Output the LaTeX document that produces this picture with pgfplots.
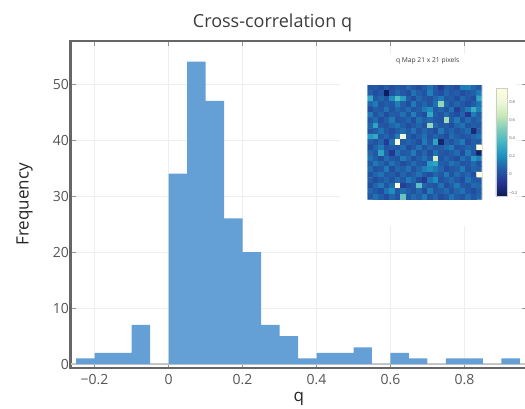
\documentclass[border=0pt]{standalone}
\usepackage{fontspec}
\setmainfont{Open Sans}
\usepackage{pgfplots}
\pgfplotsset{compat=1.18}

\definecolor{barblue}{RGB}{100,159,213}
\definecolor{framegray}{RGB}{102,102,102}
\definecolor{ticktext}{RGB}{85,85,85}
\definecolor{gridgray}{RGB}{238,238,238}
\definecolor{zerogray}{RGB}{200,200,200}
\definecolor{titlegray}{RGB}{60,60,60}

\pgfplotsset{
  colormap={ylgnbu}{rgb255=(8,29,88) rgb255=(37,52,148) rgb255=(34,94,168)
    rgb255=(29,145,192) rgb255=(65,182,196) rgb255=(127,205,187)
    rgb255=(199,233,180) rgb255=(237,248,217) rgb255=(255,255,217)},
}

% histogram of q: left bin edge and count (last row closes the final bin)
\pgfplotstableread{
edge  count
-0.25 1
-0.20 2
-0.15 2
-0.10 7
-0.05 0
0.00  34
0.05  54
0.10  47
0.15  26
0.20  20
0.25  7
0.30  5
0.35  1
0.40  2
0.45  2
0.50  3
0.55  0
0.60  2
0.65  1
0.70  0
0.75  1
0.80  1
0.85  0
0.90  1
0.95  1
}\histdata

\begin{document}
\begin{tikzpicture}[x=1pt,y=1pt]
\useasboundingbox (0,0) rectangle (525,408);

\begin{axis}[
  at={(70.5pt,40pt)}, anchor=south west,
  scale only axis, width=456.5pt, height=327pt,
  xmin=-0.265, xmax=0.969, ymin=-0.7, ymax=57.7,
  axis line style={draw=framegray, line width=2.5pt},
  xtick={-0.2,0,0.2,0.4,0.6,0.8},
  xticklabels={−0.2,0,0.2,0.4,0.6,0.8},
  ytick={0,10,20,30,40,50},
  tick align=inside, major tick length=5pt,
  tick style={draw=framegray!70, line width=0.8pt},
  grid=major, major grid style={draw=gridgray, line width=0.8pt},
  /pgf/number format/assume math mode=true,
  ticklabel style={font=\fontsize{14}{14}\selectfont, text=ticktext},
  xticklabel style={yshift=-3pt},
  yticklabel style={xshift=2pt},
  xlabel={q}, ylabel={Frequency},
  label style={font=\fontsize{17}{17}\selectfont, text=black!85},
  ylabel style={at={(axis description cs:-0.1008,0.5)}, anchor=center},
]
\addplot[zerogray, line width=1.5pt, forget plot] coordinates {(-0.265,0) (0.969,0)};
\addplot[ybar interval, fill=barblue, draw=none] table[x=edge, y=count] {\histdata};
\end{axis}

\node[anchor=base, font=\fontsize{18}{18}\selectfont, text=titlegray] at (272.5,380.5) {Cross-correlation q};

% white panel behind the map
\fill[white] (340,182) rectangle (516,354);

\begin{axis}[
  at={(367.7pt,208.7pt)}, anchor=south west,
  scale only axis, width=114pt, height=114.3pt,
  xmin=-0.5, xmax=20.5, ymin=-0.5, ymax=20.5, y dir=reverse,
  axis line style={draw=gray!25, line width=0.4pt},
  xtick=\empty, ytick=\empty,
  colormap name=ylgnbu, point meta min=-0.236, point meta max=0.947,
  title={q Map 21 x 21 pixels},
  title style={font=\fontsize{6.7}{7}\selectfont, text=titlegray,
    at={(axis description cs:0.5,1)}, anchor=base, yshift=17pt, xshift=3pt},
  colorbar,
  colorbar style={
    at={(parent axis.north east)}, anchor=north west, xshift=5.6pt, yshift=-3.3pt,
    scale only axis, width=11pt, height=107.7pt,
    ytick={-0.2,0,0.2,0.4,0.6,0.8}, yticklabels={−0.2,0,0.2,0.4,0.6,0.8},
    yticklabel style={font=\fontsize{4}{4}\selectfont, text=ticktext, xshift=-1pt},
    major tick length=0pt, axis line style={draw=gray!40, line width=0.4pt},
  },
]
% 21 x 21 map of q, one row of pixels per line, top row first
\addplot[matrix plot*, mesh/cols=21, mesh/rows=21, point meta=explicit]
  table[row sep=\\, x expr={mod(\coordindex,21)},
        y expr={round((\coordindex-mod(\coordindex,21))/21)}, meta=q] {
q\\
0.02\\0.04\\0.00\\0.06\\0.00\\0.04\\0.02\\0.09\\0.03\\0.00\\0.06\\0.12\\0.04\\-0.06\\0.06\\0.03\\0.00\\0.14\\0.16\\0.09\\0.04\\
0.06\\0.00\\0.04\\-0.22\\0.02\\0.08\\0.04\\0.00\\0.12\\0.06\\0.02\\0.16\\0.04\\0.00\\0.08\\0.03\\0.06\\0.00\\0.04\\0.07\\0.14\\
0.30\\0.04\\0.08\\0.02\\0.20\\0.40\\0.26\\0.06\\0.00\\0.09\\0.04\\0.02\\0.08\\0.14\\0.04\\0.06\\0.00\\0.09\\0.04\\0.00\\0.28\\
0.09\\0.14\\0.02\\0.06\\0.04\\0.16\\0.06\\0.00\\0.14\\0.04\\0.08\\0.02\\0.12\\0.55\\0.09\\0.02\\0.08\\0.04\\0.00\\0.06\\0.12\\
0.00\\0.06\\0.04\\0.12\\0.02\\0.08\\0.04\\0.10\\0.02\\0.06\\0.14\\0.20\\0.04\\0.08\\0.02\\0.12\\-0.05\\0.06\\0.14\\0.32\\0.16\\
0.14\\0.02\\0.08\\0.00\\0.06\\0.04\\0.12\\0.02\\0.16\\0.04\\0.00\\0.30\\0.06\\0.02\\0.10\\0.04\\0.00\\0.08\\-0.08\\0.14\\0.06\\
0.04\\0.10\\0.00\\0.06\\0.14\\0.02\\0.04\\0.08\\0.00\\0.12\\0.06\\0.09\\0.04\\0.02\\0.58\\0.06\\0.14\\0.02\\0.10\\0.04\\0.08\\
0.08\\0.28\\0.04\\0.02\\0.08\\0.12\\0.06\\0.00\\0.04\\0.08\\0.02\\0.55\\0.09\\0.04\\0.06\\0.00\\0.08\\0.12\\0.02\\0.06\\0.04\\
0.02\\0.06\\0.12\\0.04\\0.00\\0.06\\0.10\\0.04\\0.12\\0.02\\0.08\\0.04\\0.00\\0.14\\0.04\\0.08\\0.02\\0.06\\0.10\\-0.15\\0.06\\
0.24\\0.30\\0.04\\0.08\\0.02\\0.14\\0.80\\0.06\\0.00\\0.06\\0.12\\0.02\\0.08\\0.04\\0.00\\0.10\\0.06\\0.02\\0.04\\0.08\\0.12\\
0.06\\0.02\\0.08\\-0.06\\0.12\\0.88\\0.04\\0.08\\0.06\\0.00\\0.14\\0.04\\0.28\\-0.18\\0.06\\0.02\\0.08\\0.14\\0.00\\0.06\\0.04\\
0.00\\0.08\\0.14\\0.02\\0.06\\0.04\\0.10\\0.00\\0.04\\0.12\\0.02\\0.08\\0.04\\0.06\\0.10\\0.14\\0.02\\0.04\\0.08\\0.06\\0.95\\
0.08\\0.04\\0.28\\0.06\\-0.08\\0.12\\0.04\\0.06\\0.14\\0.02\\0.08\\0.00\\0.12\\0.04\\0.02\\0.06\\0.10\\0.00\\0.14\\0.04\\-0.20\\
0.12\\0.06\\0.00\\0.10\\0.04\\0.02\\0.14\\0.08\\0.00\\0.06\\0.12\\0.04\\0.70\\0.02\\0.08\\0.04\\0.00\\0.12\\0.06\\0.24\\0.16\\
0.04\\0.14\\0.08\\0.02\\0.12\\0.06\\0.00\\0.04\\0.10\\0.04\\0.02\\0.24\\0.28\\0.06\\0.04\\0.12\\0.08\\0.02\\0.04\\0.10\\0.02\\
0.10\\0.02\\0.04\\0.14\\0.00\\0.08\\0.06\\0.12\\0.02\\0.08\\0.16\\0.20\\0.14\\0.08\\0.00\\0.04\\0.06\\0.14\\0.02\\0.08\\0.06\\
0.02\\0.08\\0.12\\0.04\\0.06\\0.00\\0.08\\0.02\\0.06\\0.12\\0.04\\0.00\\0.08\\0.04\\0.14\\0.02\\0.10\\0.04\\0.08\\0.00\\0.95\\
0.06\\0.00\\0.04\\0.08\\0.02\\0.10\\0.04\\0.14\\0.08\\0.00\\-0.07\\0.12\\0.20\\0.02\\0.06\\0.10\\0.04\\0.00\\0.12\\0.06\\0.04\\
0.00\\0.08\\0.14\\0.02\\0.10\\0.92\\-0.05\\0.00\\0.04\\0.42\\0.08\\0.04\\0.02\\0.12\\0.00\\0.06\\0.14\\0.04\\0.02\\0.10\\0.08\\
0.08\\0.04\\0.00\\0.12\\0.20\\0.04\\0.10\\0.06\\0.02\\0.08\\0.00\\0.14\\0.04\\0.06\\0.10\\0.02\\0.08\\0.12\\0.04\\0.00\\0.06\\
0.04\\0.12\\0.06\\0.00\\0.08\\0.02\\0.45\\0.04\\0.10\\0.06\\0.14\\0.02\\0.08\\0.00\\0.04\\0.12\\0.06\\0.02\\0.10\\0.04\\0.08\\
};
\end{axis}
\end{tikzpicture}
\end{document}
